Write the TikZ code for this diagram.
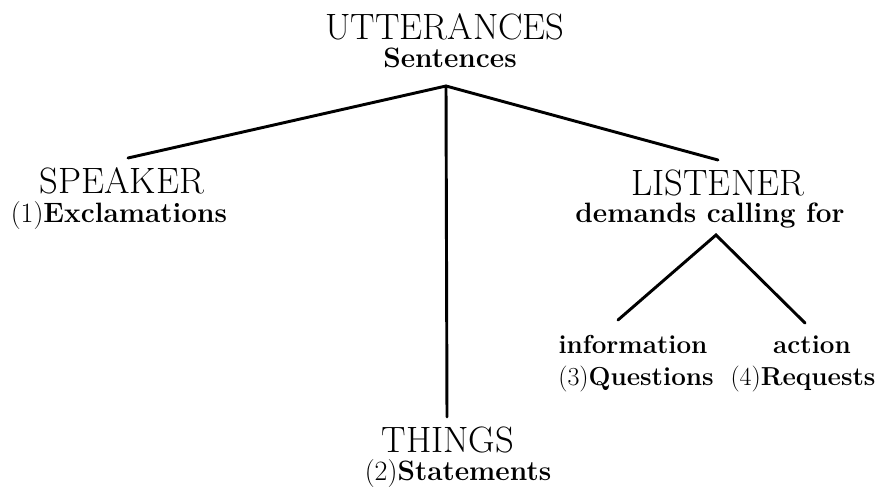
\documentclass[tikz,border=0pt]{standalone}
\usepackage{tikz}
\tikzset{
    every node/.style={inner sep=0pt},
    heading/.style={anchor=base, font=\fontsize{27.5}{32}\selectfont},
    caption/.style={anchor=base, font=\fontsize{21}{25}\selectfont\bfseries},
    small caption/.style={anchor=base, font=\fontsize{19.5}{23}\selectfont\bfseries},
    branch/.style={line width=2.2pt, line cap=round}
}
\begin{document}
\begin{tikzpicture}[x=0.75pt, y=-0.75pt]
    \useasboundingbox (0,0) rectangle (879,489);
    % root
    \node[heading] (utter) at (445,40) {UTTERANCES};
    \node[caption] (sent) at (450,67) {Sentences};
    % first level
    \node[heading] (speaker) at (122,193) {SPEAKER};
    \node[caption] (excl) at (119,222) {\mdseries(1)\bfseries Exclamations};
    \node[heading] (listener) at (718,195) {LISTENER};
    \node[caption] (demands) at (710,222) {demands calling for};
    \node[heading] (things) at (448,452) {THINGS};
    \node[caption] (stat) at (458,480) {\mdseries(2)\bfseries Statements};
    % second level
    \node[small caption] (info) at (633,353) {information};
    \node[small caption] (quest) at (636,385) {\mdseries(3)\bfseries Questions};
    \node[small caption] (act) at (812,353) {action};
    \node[small caption] (req) at (803,385) {\mdseries(4)\bfseries Requests};
    % branch points
    \coordinate (top) at (446,86);
    \coordinate (spkend) at (128,158);
    \coordinate (lisend) at (718,160);
    \coordinate (thgend) at (447,417);
    \coordinate (subtop) at (716,235);
    \coordinate (infend) at (618,320);
    \coordinate (actend) at (805,323);
    \draw[branch] (spkend) -- (top) -- (lisend);
    \draw[branch] (top) -- (thgend);
    \draw[branch] (infend) -- (subtop) -- (actend);
\end{tikzpicture}
\end{document}
